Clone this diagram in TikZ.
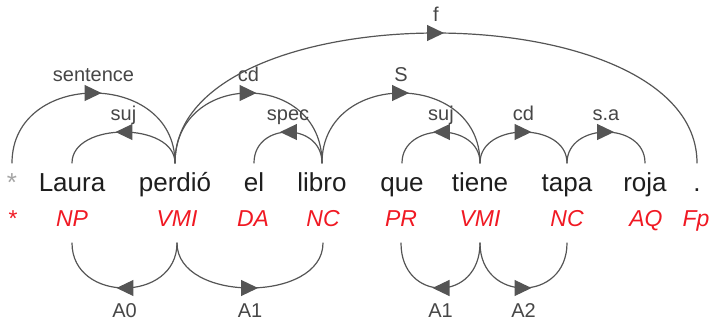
\documentclass[tikz,border=0pt]{standalone}
\usepackage{fontspec}
\setmainfont{Liberation Sans}
\usetikzlibrary{arrows.meta,decorations.markings}
\definecolor{arcgray}{RGB}{85,85,85}
\definecolor{lblgray}{RGB}{70,70,70}
\definecolor{wordblack}{RGB}{30,30,30}
\definecolor{tagred}{RGB}{240,25,35}
\definecolor{rootgray}{RGB}{165,165,165}
\begin{document}
\begin{tikzpicture}[x=1pt,y=1pt,line join=round,line cap=round,
	word/.style={font=\fontsize{26}{28}\selectfont,text=wordblack,anchor=base,text height=24pt,inner sep=5pt,outer sep=0pt},
	tag/.style={font=\fontsize{23}{25}\selectfont\itshape,text=tagred,anchor=base,text depth=11pt,inner sep=5pt,outer sep=0pt},
	dep/.style={arcgray,line width=1.2pt,postaction={decorate},decoration={markings,mark=at position 0.5 with {\arrow[xshift=8pt]{Triangle[length=17pt,width=16pt]}}}},
	lblup/.style={font=\fontsize{20}{22}\selectfont,text=lblgray,anchor=base,yshift=12pt},
	lbldown/.style={font=\fontsize{20}{22}\selectfont,text=lblgray,anchor=base,yshift=-30pt}]
		\useasboundingbox (0,0) rectangle (714,328);
		\node[word,text=rootgray] (root) at (12,136) {*};
		\node[word] (laura) at (72,136) {Laura};
		\node[word] (perdio) at (175,136) {perdió};
		\node[word] (el) at (254,136) {el};
		\node[word] (libro) at (322,136) {libro};
		\node[word] (que) at (402,136) {que};
		\node[word] (tiene) at (480,136) {tiene};
		\node[word] (tapa) at (567,136) {tapa};
		\node[word] (roja) at (645,136) {roja};
		\node[word] (punct) at (697,136) {.};
		\node[tag] (troot) at (12,101) {*};
		\node[tag] (tlaura) at (72,101) {NP};
		\node[tag] (tperdio) at (177,101) {VMI};
		\node[tag] (tel) at (253,101) {DA};
		\node[tag] (tlibro) at (323,101) {NC};
		\node[tag] (tque) at (401,101) {PR};
		\node[tag] (ttiene) at (480,101) {VMI};
		\node[tag] (ttapa) at (567,101) {NC};
		\node[tag] (troja) at (646,101) {AQ};
		\node[tag] (tpunct) at (696,101) {Fp};
		\draw[dep] (root.north) .. controls +(0,93.3) and +(0,93.3) .. (perdio.north) node[lblup,pos=0.5]{sentence};
		\draw[dep] (perdio.north) .. controls +(0,41.3) and +(0,41.3) .. (laura.north) node[lblup,pos=0.5]{suj};
		\draw[dep] (perdio.north) .. controls +(0,93.3) and +(0,93.3) .. (libro.north) node[lblup,pos=0.5]{cd};
		\draw[dep] (libro.north) .. controls +(0,41.3) and +(0,41.3) .. (el.north) node[lblup,pos=0.5]{spec};
		\draw[dep] (perdio.north) .. controls +(0,173.3) and +(0,173.3) .. (punct.north) node[lblup,pos=0.5]{f};
		\draw[dep] (libro.north) .. controls +(0,93.3) and +(0,93.3) .. (tiene.north) node[lblup,pos=0.5]{S};
		\draw[dep] (tiene.north) .. controls +(0,41.3) and +(0,41.3) .. (que.north) node[lblup,pos=0.5]{suj};
		\draw[dep] (tiene.north) .. controls +(0,41.3) and +(0,41.3) .. (tapa.north) node[lblup,pos=0.5]{cd};
		\draw[dep] (tapa.north) .. controls +(0,41.3) and +(0,41.3) .. (roja.north) node[lblup,pos=0.5]{s.a};
		\draw[dep] (tperdio.south) .. controls +(0,-60) and +(0,-60) .. (tlaura.south) node[lbldown,pos=0.5]{A0};
		\draw[dep] (tperdio.south) .. controls +(0,-60) and +(0,-60) .. (tlibro.south) node[lbldown,pos=0.5]{A1};
		\draw[dep] (ttiene.south) .. controls +(0,-60) and +(0,-60) .. (tque.south) node[lbldown,pos=0.5]{A1};
		\draw[dep] (ttiene.south) .. controls +(0,-60) and +(0,-60) .. (ttapa.south) node[lbldown,pos=0.5]{A2};
\end{tikzpicture}
\end{document}
